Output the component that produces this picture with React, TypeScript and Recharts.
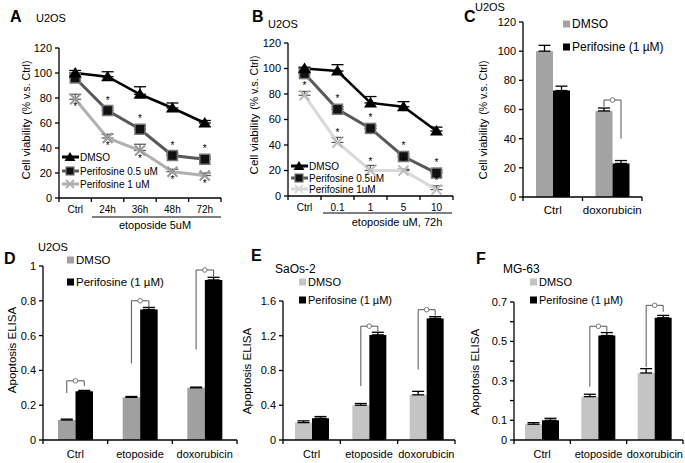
import React from 'react';
import { LineChart, Line, BarChart, Bar, XAxis, YAxis, ErrorBar, LabelList } from 'recharts';

const W = 685;
const H = 463;
const FONT = '"Liberation Sans", Arial, Helvetica, sans-serif';

// ---- A: U2OS, etoposide 5uM time course ----
const timeCats = ['Ctrl', '24h', '36h', '48h', '72h'];
const aDmso = [100, 97, 83, 72, 60];
const aDmsoErr = [2, 4, 6, 4, 2];
const aP05 = [96, 70, 55, 34, 31];
const aP05Err = [2, 2, 3, 2, 2];
const aP1 = [79, 48, 38, 21, 18];
const aP1Err = [4, 3, 5, 2, 2];
const aP05Star = [false, true, true, true, true];
const aP1Star = [true, true, true, true, true];

// ---- B: U2OS, etoposide dose, 72h ----
const doseCats = ['Ctrl', '0.1', '1', '5', '10'];
const bDmso = [100, 98, 73, 70, 51];
const bDmsoErr = [1, 5, 5, 4, 3];
const bP05 = [96, 68, 53, 31, 18];
const bP05Err = [2, 2, 2, 2, 2];
const bP1 = [79, 42, 20, 20, 5];
const bP1Err = [3, 4, 4, 1, 3];
const bP05Star = [false, true, true, true, true];
const bP1Star = [true, true, true, true, true];

// ---- C: U2OS viability, doxorubicin ----
const cCats = ['Ctrl', 'doxorubicin'];
const cDmso = [100, 59];
const cDmsoErr = [4, 2];
const cPerif = [73, 23];
const cPerifErr = [3, 2];
const cBrackets = [null, [62, 66.5, 40]];

// ---- D/E/F: apoptosis ELISA ----
const elisaCats = ['Ctrl', 'etoposide', 'doxorubicin'];

const dDmso = [0.115, 0.245, 0.3];
const dDmsoErr = [0.005, 0.005, 0.004];
const dPerif = [0.28, 0.75, 0.92];
const dPerifErr = [0.005, 0.012, 0.015];
const dBrackets = [[0.27, 0.34, 0.31], [0.44, 0.8, 0.76], [0.52, 0.977, 0.94]];

const eDmso = [0.2, 0.4, 0.52];
const eDmsoErr = [0.02, 0.02, 0.04];
const ePerif = [0.25, 1.21, 1.4];
const ePerifErr = [0.02, 0.03, 0.02];
const eBrackets = [null, [0.62, 1.31, 1.25], [0.81, 1.5, 1.43]];

const fDmso = [0.08, 0.22, 0.34];
const fDmsoErr = [0.008, 0.012, 0.022];
const fPerif = [0.1, 0.53, 0.62];
const fPerifErr = [0.01, 0.015, 0.012];
const fBrackets = [null, [0.27, 0.577, 0.55], [0.37, 0.683, 0.65]];

const viabTicks = [0, 20, 40, 60, 80, 100, 120];
const dTicks = [0, 0.2, 0.4, 0.6, 0.8, 1];
const eTicks = [0, 0.4, 0.8, 1.2, 1.6];
const fTicks = [0, 0.1, 0.2, 0.3, 0.4, 0.5, 0.6, 0.7];
const fTickLabels = [0, 0.1, 0.3, 0.5, 0.7];

type Box = { l: number; r: number; t: number; b: number };

const YW = 40;
const XH = 20;
const axisStroke = { stroke: '#000', strokeWidth: 1.3 };

function marginsFor(b: Box) {
  return { left: b.l - YW, right: W - b.r, top: b.t, bottom: H - b.b - XH };
}

// category tick: marks sit on the band edges, label at the band centre
function CatTick(props: any) {
  const { x, y, payload, index, bw, n, fs, dy } = props;
  const x0 = x - bw / 2;
  const x1 = x + bw / 2;
  return (
    <g>
      <line x1={x0} x2={x0} y1={y} y2={y + 4} stroke="#000" strokeWidth={1.3} />
      {index === n - 1 && <line x1={x1} x2={x1} y1={y} y2={y + 4} stroke="#000" strokeWidth={1.3} />}
      <text x={x} y={y + dy} textAnchor="middle" fontSize={fs} fontFamily={FONT} fill="#000">
        {payload.value}
      </text>
    </g>
  );
}

const triDot = (p: any) => (
  <path
    key={`tri-${p.index}`}
    d={`M${p.cx},${p.cy - 6}L${p.cx + 6.5},${p.cy + 4.5}L${p.cx - 6.5},${p.cy + 4.5}Z`}
    fill="#000"
  />
);
const sqDot = (p: any) => (
  <rect key={`sq-${p.index}`} x={p.cx - 5} y={p.cy - 5} width={10} height={10} fill="#111" stroke="#777" strokeWidth={1.5} />
);
const crossDot = (color: string) => (p: any) => (
  <g key={`x-${p.index}`} stroke={color} strokeWidth={2}>
    <line x1={p.cx - 5} y1={p.cy - 5} x2={p.cx + 5} y2={p.cy + 5} />
    <line x1={p.cx - 5} y1={p.cy + 5} x2={p.cx + 5} y2={p.cy - 5} />
  </g>
);

function LinePanel(props: {
  cats: string[];
  dmso: number[];
  dmsoErr: number[];
  p05: number[];
  p05Err: number[];
  p1: number[];
  p1Err: number[];
  p05Star: boolean[];
  p1Star: boolean[];
  p1Color: string;
  p1Mark: string;
  p1StarPos: 'top' | 'bottom';
  box: Box;
}) {
  const { cats, box } = props;
  const rows = cats.map((cat, i) => ({
    cat,
    dmso: props.dmso[i],
    dmsoErr: [0, props.dmsoErr[i]],
    p05: props.p05[i],
    p05Err: [0, props.p05Err[i]],
    p1: props.p1[i],
    p1Err: [0, props.p1Err[i]],
    p05Star: props.p05Star[i] ? '*' : '',
    p1Star: props.p1Star[i] ? '*' : '',
  }));
  const bw = (box.r - box.l) / cats.length;
  return (
    <div style={{ position: 'absolute', left: 0, top: 0 }}>
      <LineChart width={W} height={H} data={rows} margin={marginsFor(box)}>
        <XAxis
          dataKey="cat"
          scale="point"
          padding={{ left: bw / 2, right: bw / 2 }}
          interval={0}
          height={XH}
          axisLine={axisStroke}
          tickLine={false}
          tickSize={0}
          tickMargin={0}
          tick={(p: any) => <CatTick {...p} bw={bw} n={cats.length} fs={10} dy={15} />}
        />
        <YAxis
          width={YW}
          domain={[0, 120]}
          ticks={viabTicks}
          interval={0}
          axisLine={axisStroke}
          tickLine={axisStroke}
          tickSize={4}
          tickMargin={3}
          tick={{ fontSize: 11, fill: '#000', fontFamily: FONT }}
        />
        <Line dataKey="p1" stroke={props.p1Color} strokeWidth={3} dot={crossDot(props.p1Mark)} isAnimationActive={false}>
          <ErrorBar dataKey="p1Err" width={6} stroke="#555" strokeWidth={1.2} />
          <LabelList dataKey="p1Star" position={props.p1StarPos} offset={props.p1StarPos === 'top' ? 6 : 4} fontSize={10} fill="#000" fontFamily={FONT} />
        </Line>
        <Line dataKey="p05" stroke="#595959" strokeWidth={3} dot={sqDot} isAnimationActive={false}>
          <ErrorBar dataKey="p05Err" width={6} stroke="#222" strokeWidth={1.2} />
          <LabelList dataKey="p05Star" position="top" offset={7} fontSize={10} fill="#000" fontFamily={FONT} />
        </Line>
        <Line dataKey="dmso" stroke="#000" strokeWidth={2.5} dot={triDot} isAnimationActive={false}>
          <ErrorBar dataKey="dmsoErr" width={6} stroke="#000" strokeWidth={1.3} />
        </Line>
      </LineChart>
    </div>
  );
}

function BracketLabel(props: any) {
  const { viewBox, index, brackets, values } = props;
  const br = brackets[index];
  if (!br || !viewBox) return null;
  const { x, y, width, height } = viewBox;
  const base = y + height;
  const ppu = height / values[index];
  const py = (v: number) => base - v * ppu;
  // bars touch (barGap 0), so the DMSO bar centre is half a bar left of this one
  const xl = x - width / 2;
  const xr = x + width / 2;
  const [lo, top, ro] = br;
  return (
    <g>
      <polyline
        points={`${xl},${py(lo)} ${xl},${py(top)} ${xr},${py(top)} ${xr},${py(ro)}`}
        fill="none"
        stroke="#555"
        strokeWidth={1}
      />
      <circle cx={(xl + xr) / 2} cy={py(top)} r={2.3} fill="#fff" stroke="#777" strokeWidth={1} />
    </g>
  );
}

function BarPanel(props: {
  cats: string[];
  dmso: number[];
  dmsoErr: number[];
  perif: number[];
  perifErr: number[];
  brackets: (number[] | null)[];
  box: Box;
  domain: [number, number];
  ticks: number[];
  tickLabels?: number[];
  dmsoColor: string;
  barSize: number;
  catFs: number;
  catDy: number;
}) {
  const { cats, box } = props;
  const rows = cats.map((cat, i) => ({
    cat,
    dmso: props.dmso[i],
    dmsoErr: [0, props.dmsoErr[i]],
    perif: props.perif[i],
    perifErr: [0, props.perifErr[i]],
  }));
  const bw = (box.r - box.l) / cats.length;
  const fmt = (v: number) => (props.tickLabels && !props.tickLabels.includes(v) ? '' : String(v));
  return (
    <div style={{ position: 'absolute', left: 0, top: 0 }}>
      <BarChart width={W} height={H} data={rows} margin={marginsFor(box)} barGap={0}>
        <XAxis
          dataKey="cat"
          interval={0}
          height={XH}
          axisLine={axisStroke}
          tickLine={false}
          tickSize={0}
          tickMargin={0}
          tick={(p: any) => <CatTick {...p} bw={bw} n={cats.length} fs={props.catFs} dy={props.catDy} />}
        />
        <YAxis
          width={YW}
          domain={props.domain}
          ticks={props.ticks}
          interval={0}
          axisLine={axisStroke}
          tickLine={axisStroke}
          tickSize={4}
          tickMargin={3}
          tickFormatter={fmt}
          tick={{ fontSize: 11, fill: '#000', fontFamily: FONT }}
        />
        <Bar dataKey="dmso" fill={props.dmsoColor} barSize={props.barSize} isAnimationActive={false}>
          <ErrorBar dataKey="dmsoErr" width={6} stroke="#000" strokeWidth={1.3} />
        </Bar>
        <Bar dataKey="perif" fill="#000" barSize={props.barSize} isAnimationActive={false}>
          <ErrorBar dataKey="perifErr" width={6} stroke="#000" strokeWidth={1.3} />
          <LabelList
            dataKey="perif"
            content={(p: any) => <BracketLabel {...p} brackets={props.brackets} values={props.perif} />}
          />
        </Bar>
      </BarChart>
    </div>
  );
}

function Txt(p: { x: number; y: number; s: number; b?: boolean; a?: 'start' | 'middle'; children: React.ReactNode }) {
  return (
    <text x={p.x} y={p.y} fontSize={p.s} fontWeight={p.b ? 'bold' : 'normal'} textAnchor={p.a ?? 'start'} fontFamily={FONT} fill="#000">
      {p.children}
    </text>
  );
}

function VTitle({ x, y, children, s = 11.5 }: { x: number; y: number; s?: number; children: React.ReactNode }) {
  return (
    <text transform={`translate(${x},${y}) rotate(-90)`} textAnchor="middle" dominantBaseline="middle" fontSize={s} fontFamily={FONT} fill="#000">
      {children}
    </text>
  );
}

function LineKey({ x, y, kind, color, label }: { x: number; y: number; kind: string; color: string; label: string }) {
  return (
    <g>
      <line x1={x} x2={x + 17} y1={y} y2={y} stroke={color} strokeWidth={3} />
      {kind === 'tri' && <path d={`M${x + 8},${y - 5}L${x + 13.5},${y + 4}L${x + 2.5},${y + 4}Z`} fill="#000" />}
      {kind === 'sq' && <rect x={x + 4} y={y - 4} width={8} height={8} fill="#111" stroke="#777" strokeWidth={1.2} />}
      {kind === 'x' && (
        <g stroke={color} strokeWidth={2}>
          <line x1={x + 4} y1={y - 4} x2={x + 12} y2={y + 4} />
          <line x1={x + 4} y1={y + 4} x2={x + 12} y2={y - 4} />
        </g>
      )}
      <Txt x={x + 18} y={y + 3.5} s={10}>{label}</Txt>
    </g>
  );
}

function BoxKey({ x, y, color, label, s }: { x: number; y: number; color: string; label: string; s: number }) {
  return (
    <g>
      <rect x={x} y={y - 3.5} width={7} height={7} fill={color} />
      <Txt x={x + 9} y={y + 4} s={s}>{label}</Txt>
    </g>
  );
}

function Overlay() {
  return (
    <svg width={W} height={H} style={{ position: 'absolute', left: 0, top: 0, pointerEvents: 'none' }}>
      {/* A */}
      <Txt x={10} y={22} s={16} b>A</Txt>
      <Txt x={36} y={22} s={11}>U2OS</Txt>
      <VTitle x={27} y={120}>
        <tspan fontSize={11.5}>Cell viability</tspan>
        <tspan fontSize={10.5} dx={4}>(% v.s. Ctrl)</tspan>
      </VTitle>
      <line x1={92} x2={221} y1={217} y2={217} stroke="#000" strokeWidth={1} />
      <Txt x={155} y={229} s={11} a="middle">etoposide 5uM</Txt>
      <LineKey x={62} y={157} kind="tri" color="#000" label="DMSO" />
      <LineKey x={62} y={171} kind="sq" color="#595959" label="Perifosine 0.5 uM" />
      <LineKey x={62} y={184} kind="x" color="#b0b0b0" label="Perifosine 1 uM" />

      {/* B */}
      <Txt x={252} y={22} s={16} b>B</Txt>
      <Txt x={268} y={28} s={11}>U2OS</Txt>
      <VTitle x={255} y={115}>
        <tspan fontSize={11.5}>Cell viability</tspan>
        <tspan fontSize={10.5} dx={4}>(% v.s. Ctrl)</tspan>
      </VTitle>
      <line x1={323} x2={452} y1={213} y2={213} stroke="#000" strokeWidth={1} />
      <Txt x={397} y={226} s={11} a="middle">etoposide uM, 72h</Txt>
      <LineKey x={291} y={166} kind="tri" color="#000" label="DMSO" />
      <LineKey x={291} y={178} kind="sq" color="#595959" label="Perifosine 0.5uM" />
      <LineKey x={291} y={189} kind="x" color="#d9d9d9" label="Perifosine 1uM" />

      {/* C */}
      <Txt x={464} y={22} s={16} b>C</Txt>
      <Txt x={475} y={11} s={11}>U2OS</Txt>
      <VTitle x={484} y={120}>
        <tspan fontSize={11.5}>Cell viability</tspan>
        <tspan fontSize={10.5} dx={4}>(% v.s. Ctrl)</tspan>
      </VTitle>
      <BoxKey x={563} y={24} color="#a3a3a3" label="DMSO" s={12} />
      <BoxKey x={563} y={47} color="#000" label="Perifosine (1 µM)" s={12} />

      {/* D */}
      <Txt x={4} y={264} s={16} b>D</Txt>
      <Txt x={38} y={251} s={11}>U2OS</Txt>
      <VTitle x={13} y={350}>Apoptosis ELISA</VTitle>
      <BoxKey x={67} y={260} color="#a0a0a0" label="DMSO" s={11.5} />
      <BoxKey x={67} y={282} color="#000" label="Perifosine (1 µM)" s={11.5} />

      {/* E */}
      <Txt x={251} y={261} s={16} b>E</Txt>
      <Txt x={275} y={273} s={12}>SaOs-2</Txt>
      <VTitle x={248} y={371}>Apoptosis ELISA</VTitle>
      <BoxKey x={299} y={282} color="#c4c4c4" label="DMSO" s={11} />
      <BoxKey x={299} y={300} color="#000" label="Perifosine (1 µM)" s={11} />

      {/* F */}
      <Txt x={476} y={264} s={16} b>F</Txt>
      <Txt x={503} y={273} s={12}>MG-63</Txt>
      <VTitle x={476} y={372}>Apoptosis ELISA</VTitle>
      <BoxKey x={530} y={282} color="#c4c4c4" label="DMSO" s={11} />
      <BoxKey x={530} y={300} color="#000" label="Perifosine (1 µM)" s={11} />
    </svg>
  );
}

export default function App() {
  return (
    <div style={{ position: 'fixed', left: 0, top: 0, width: W, height: H, background: '#fff', fontFamily: FONT }}>
      <LinePanel
        cats={timeCats}
        dmso={aDmso}
        dmsoErr={aDmsoErr}
        p05={aP05}
        p05Err={aP05Err}
        p1={aP1}
        p1Err={aP1Err}
        p05Star={aP05Star}
        p1Star={aP1Star}
        p1Color="#b0b0b0"
        p1Mark="#999"
        p1StarPos="bottom"
        box={{ l: 59, r: 221, t: 48, b: 198 }}
      />
      <LinePanel
        cats={doseCats}
        dmso={bDmso}
        dmsoErr={bDmsoErr}
        p05={bP05}
        p05Err={bP05Err}
        p1={bP1}
        p1Err={bP1Err}
        p05Star={bP05Star}
        p1Star={bP1Star}
        p1Color="#d9d9d9"
        p1Mark="#bbb"
        p1StarPos="top"
        box={{ l: 288, r: 453, t: 43, b: 196 }}
      />
      <BarPanel
        cats={cCats}
        dmso={cDmso}
        dmsoErr={cDmsoErr}
        perif={cPerif}
        perifErr={cPerifErr}
        brackets={cBrackets}
        box={{ l: 523, r: 642, t: 22, b: 197 }}
        domain={[0, 120]}
        ticks={viabTicks}
        dmsoColor="#a3a3a3"
        barSize={17}
        catFs={11.5}
        catDy={17}
      />
      <BarPanel
        cats={elisaCats}
        dmso={dDmso}
        dmsoErr={dDmsoErr}
        perif={dPerif}
        perifErr={dPerifErr}
        brackets={dBrackets}
        box={{ l: 43, r: 237, t: 266, b: 440 }}
        domain={[0, 1]}
        ticks={dTicks}
        dmsoColor="#a0a0a0"
        barSize={17.5}
        catFs={11}
        catDy={18}
      />
      <BarPanel
        cats={elisaCats}
        dmso={eDmso}
        dmsoErr={eDmsoErr}
        perif={ePerif}
        perifErr={ePerifErr}
        brackets={eBrackets}
        box={{ l: 283, r: 455, t: 301, b: 440 }}
        domain={[0, 1.6]}
        ticks={eTicks}
        dmsoColor="#c4c4c4"
        barSize={17}
        catFs={11}
        catDy={18}
      />
      <BarPanel
        cats={elisaCats}
        dmso={fDmso}
        dmsoErr={fDmsoErr}
        perif={fPerif}
        perifErr={fPerifErr}
        brackets={fBrackets}
        box={{ l: 514, r: 683, t: 302, b: 440 }}
        domain={[0, 0.7]}
        ticks={fTicks}
        tickLabels={fTickLabels}
        dmsoColor="#c4c4c4"
        barSize={17}
        catFs={11}
        catDy={18}
      />
      <Overlay />
    </div>
  );
}
